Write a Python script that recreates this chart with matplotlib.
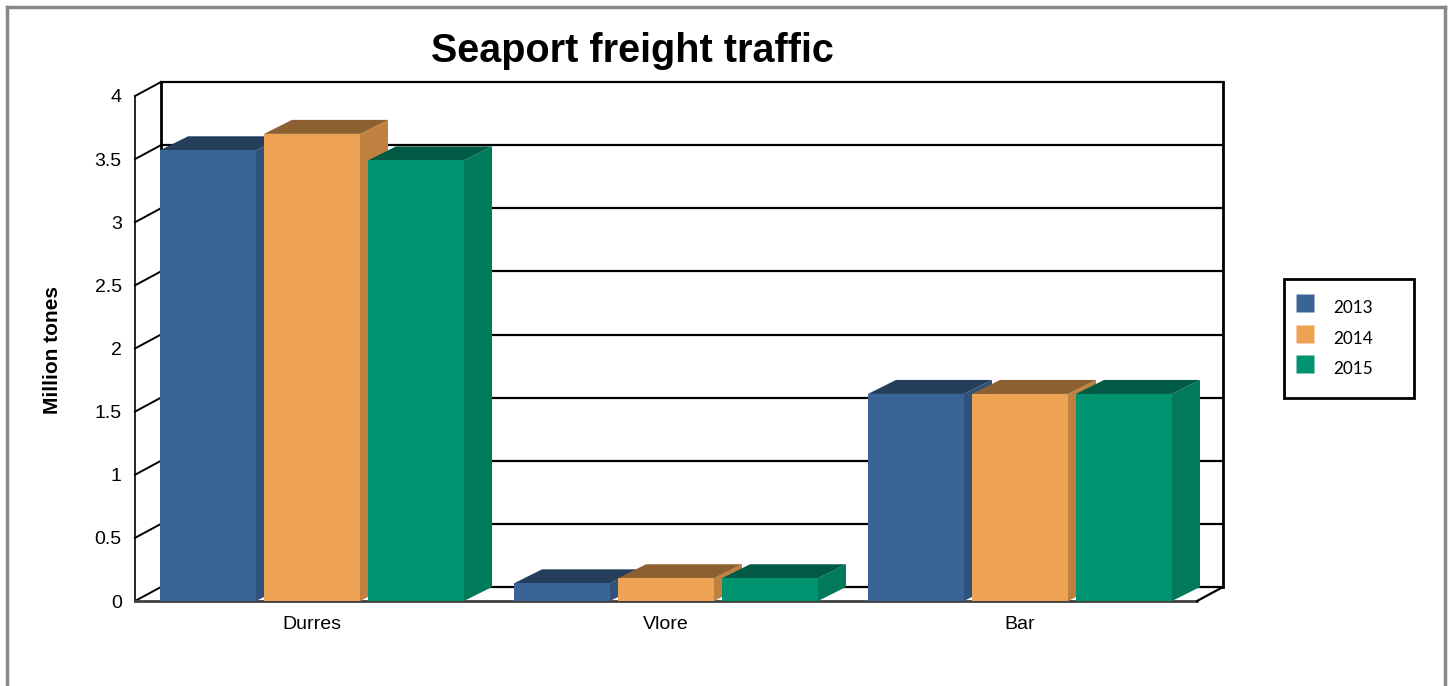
import matplotlib
matplotlib.use("Agg")
import matplotlib.pyplot as plt
from matplotlib.patches import Polygon
from matplotlib.lines import Line2D

# ---- data ----
categories = ["Durres", "Vlore", "Bar"]
years = ["2013", "2014", "2015"]
v2013 = [3.57, 0.14, 1.64]
v2014 = [3.70, 0.18, 1.64]
v2015 = [3.49, 0.18, 1.64]
yticks = [0, 0.5, 1, 1.5, 2, 2.5, 3, 3.5, 4]
ytick_labels = ["0", "0.5", "1", "1.5", "2", "2.5", "3", "3.5", "4"]
series = [v2013, v2014, v2015]

# ---- styles ----
front_colors = ["#3A6496", "#EEA253", "#009370"]
top_colors = ["#243E5C", "#8C6030", "#005A44"]
side_colors = ["#2E527D", "#BF8040", "#007A5A"]

plt.rcParams['font.family'] = ['Liberation Sans', 'DejaVu Sans']

W, H = 1452, 686
fig = plt.figure(figsize=(W / 100, H / 100), dpi=100)

# geometry (pixels) of the pseudo-3D frame
x0px, y0px = 135, 601
px_per_cat = 354.0
px_per_val = 126.25
wall_dx_px, wall_dy_px = 26, 14
bar_dx_px = 28
ymax = 4
ncat = len(categories)
ax_w_px = ncat * px_per_cat + wall_dx_px
ax_h_px = ymax * px_per_val + wall_dy_px
ax = fig.add_axes([x0px / W, (H - y0px) / H, ax_w_px / W, ax_h_px / H])
ax.set_xlim(0, ax_w_px / px_per_cat)
ax.set_ylim(0, ax_h_px / px_per_val)
ax.patch.set_alpha(0)
for s in ax.spines.values():
    s.set_visible(False)

DX = wall_dx_px / px_per_cat
DY = wall_dy_px / px_per_val
BDX = bar_dx_px / px_per_cat

lk = dict(color='black', clip_on=False, solid_capstyle='projecting', zorder=1)
# back wall gridlines and left wall diagonals
for t in yticks:
    ax.plot([DX, ncat + DX], [t + DY, t + DY], lw=1.6, **lk)
    ax.plot([0, DX], [t, t + DY], lw=1.4, **lk)
ax.plot([0, 0], [0, ymax], lw=1.2, **lk)
ax.plot([DX, DX], [DY, ymax + DY], lw=2.0, **lk)
ax.plot([ncat + DX, ncat + DX], [DY, ymax + DY], lw=2.0, **lk)
ax.plot([0, ncat], [0, 0], lw=2.0, color='#404040', clip_on=False, zorder=1)
ax.plot([ncat, ncat + DX], [0, DY], lw=1.6, **lk)

# bars
width = 96 / px_per_cat
pitch = 104 / px_per_cat
for j, vals in enumerate(series):
    xs = [i + 0.5 + (j - 1) * pitch for i in range(ncat)]
    ax.bar(xs, vals, width=width, color=front_colors[j], zorder=4 + 2 * j,
           linewidth=0, clip_on=False)
    for x, v in zip(xs, vals):
        xl, xr = x - width / 2, x + width / 2
        side = Polygon([(xr, 0), (xr + BDX, DY), (xr + BDX, v + DY), (xr, v)],
                       closed=True, facecolor=side_colors[j], edgecolor='none',
                       zorder=3 + 2 * j, clip_on=False)
        top = Polygon([(xl, v), (xr, v), (xr + BDX, v + DY), (xl + BDX, v + DY)],
                      closed=True, facecolor=top_colors[j], edgecolor='none',
                      zorder=3 + 2 * j, clip_on=False)
        ax.add_patch(side)
        ax.add_patch(top)

ax.set_yticks(yticks, ytick_labels)
ax.set_xticks([i + 0.5 for i in range(ncat)], categories)
ax.tick_params(axis='y', length=0, pad=9.5, labelsize=14)
ax.tick_params(axis='x', length=0, pad=10.5, labelsize=14)

fig.text(632 / W, 1 - 62 / H, "Seaport freight traffic", ha='center', va='baseline',
         fontsize=28.5, fontweight='bold')
fig.text(52 / W, 1 - 350 / H, "Million tones", ha='center', va='center',
         rotation=90, fontsize=15, fontweight='bold')

handles = [Line2D([], [], linestyle='none', marker='s', markersize=12.5,
                  markerfacecolor=c, markeredgecolor='none') for c in front_colors]
leg = fig.legend(handles, years, loc='upper left', mode='expand',
                 bbox_to_anchor=(1284 / W, 1 - 279 / H, 130 / W, 0),
                 frameon=True, fancybox=False, edgecolor='black', framealpha=1,
                 prop={'family': ['Lato', 'DejaVu Sans'], 'size': 12.3},
                 handlelength=0.85, handleheight=2.38, handletextpad=1.25,
                 borderpad=0.8, labelspacing=0.0, borderaxespad=0)
leg.get_frame().set_linewidth(2)

# outer gray border
bc = '#888888'
fig.add_artist(Line2D([7 / W, 7 / W], [0, 1 - 7 / H], transform=fig.transFigure, color=bc, lw=2.5))
fig.add_artist(Line2D([7 / W, 1445 / W], [1 - 7 / H, 1 - 7 / H], transform=fig.transFigure, color=bc, lw=2.5))
fig.add_artist(Line2D([1445 / W, 1445 / W], [0, 1 - 7 / H], transform=fig.transFigure, color=bc, lw=2.5))

fig.savefig("out.png", dpi=100)
